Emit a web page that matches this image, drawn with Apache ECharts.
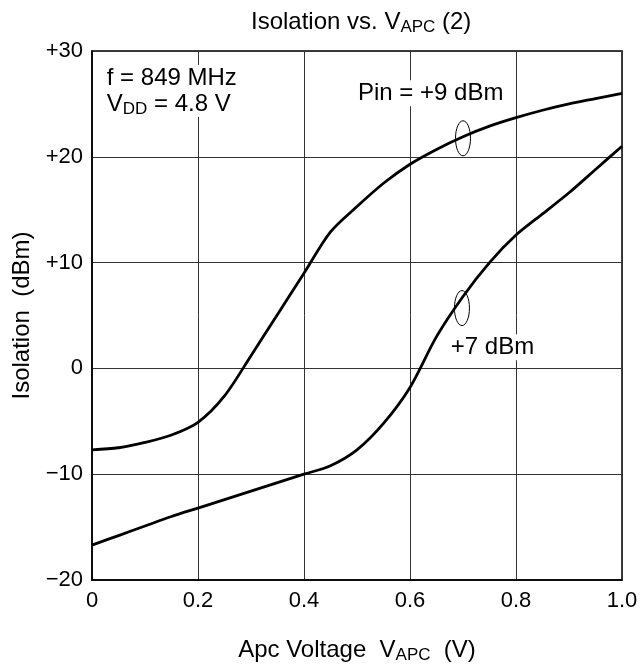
<!DOCTYPE html>
<html>
<head>
<meta charset="utf-8">
<script src="https://cdn.jsdelivr.net/npm/echarts@6/dist/echarts.min.js"></script>
<style>
html,body{margin:0;padding:0;background:#fff;}
#chart{width:641px;height:671px;}
</style>
</head>
<body>
<div id="chart"></div>
<script>
// ---- data ----
const vApc = [0, 0.05, 0.1, 0.15, 0.2, 0.25, 0.3, 0.35, 0.4, 0.45, 0.5, 0.55, 0.6, 0.65, 0.7, 0.75, 0.8, 0.85, 0.9, 0.95, 1.0];
const pin9 = [-7.7, -7.5, -7.0, -6.3, -5.1, -2.6, 1.2, 5.1, 9.0, 12.9, 15.3, 17.5, 19.3, 20.7, 21.9, 22.9, 23.7, 24.4, 25.0, 25.5, 26.0];
const pin7 = [-16.7, -15.8, -14.9, -14.0, -13.2, -12.4, -11.6, -10.8, -10.0, -9.2, -7.7, -5.2, -1.8, 3.0, 6.8, 10.0, 12.6, 14.6, 16.6, 18.8, 21.0];
const xTicks = [0, 0.2, 0.4, 0.6, 0.8, 1.0];
const xTickLabels = ['0', '0.2', '0.4', '0.6', '0.8', '1.0'];
const yTicks = [-20, -10, 0, 10, 20, 30];
const yTickLabels = ['\u221220', '\u221210', '0', '+10', '+20', '+30'];
const seriesNames = ['Pin = +9 dBm', '+7 dBm'];

const FONT = '"Liberation Sans", Arial, Helvetica, sans-serif';
const chart = echarts.init(document.getElementById('chart'), null, {renderer: 'canvas'});

function pair(xs, ys) { return xs.map((x, i) => [x, ys[i]]); }
function lbl(ticks, labels) {
  return v => { const i = ticks.findIndex(t => Math.abs(t - v) < 1e-6); return i >= 0 ? labels[i] : ''; };
}

const subRich = {
  a: {fontFamily: FONT, fontSize: 24, color: '#000', lineHeight: 28},
  s: {fontFamily: FONT, fontSize: 17, color: '#000', lineHeight: 28, padding: [11, 0, 0, 0]}
};

chart.setOption({
  animation: false,
  backgroundColor: '#fff',
  title: {
    text: '{a|Isolation vs. V}{s|APC}{a| (2)}',
    left: 246, top: 3,
    textStyle: {fontWeight: 'normal', rich: subRich}
  },
  grid: {left: 92, right: 19, top: 51, bottom: 91, show: true, borderColor: '#000', borderWidth: 1.5, backgroundColor: 'transparent'},
  xAxis: {
    type: 'value', min: 0, max: 1, interval: 0.2,
    axisLine: {show: true, onZero: false, lineStyle: {color: '#000', width: 1.5}},
    axisTick: {show: false},
    splitLine: {show: true, lineStyle: {color: '#333', width: 1}},
    axisLabel: {formatter: lbl(xTicks, xTickLabels), color: '#000', fontFamily: FONT, fontSize: 22, margin: 10},
    name: '{a|Apc Voltage  V}{s|APC}{a|  (V)}',
    nameLocation: 'middle', nameGap: 56,
    nameTextStyle: {rich: subRich}
  },
  yAxis: {
    type: 'value', min: -20, max: 30, interval: 10,
    axisLine: {show: true, onZero: false, lineStyle: {color: '#000', width: 1.5}},
    axisTick: {show: false},
    splitLine: {show: true, lineStyle: {color: '#333', width: 1}},
    axisLabel: {formatter: lbl(yTicks, yTickLabels), color: '#000', fontFamily: FONT, fontSize: 22, margin: 9},
    name: 'Isolation  (dBm)',
    nameLocation: 'middle', nameGap: 58,
    nameTextStyle: {fontFamily: FONT, fontSize: 24, color: '#000'}
  },
  series: [
    {name: seriesNames[0], type: 'line', data: pair(vApc, pin9), smooth: 0.3, showSymbol: false,
     lineStyle: {color: '#000', width: 2.8}, z: 3},
    {name: seriesNames[1], type: 'line', data: pair(vApc, pin7), smooth: 0.3, showSymbol: false,
     lineStyle: {color: '#000', width: 2.8}, z: 3}
  ]
});

// annotations in data coordinates
const texts = [
  {pos: [0.026, 27.45], rich: '{a|f = 849 MHz}'},
  {pos: [0.026, 25.0], rich: '{a|V}{s|DD}{a| = 4.8 V}'},
  {pos: [0.5, 26.0], rich: '{a|' + seriesNames[0] + '}'},
  {pos: [0.675, 2.0], rich: '{a|' + seriesNames[1] + '}'}
];
const loops = [[0.70, 21.75], [0.698, 5.7]];

const annRich = {
  a: {fontFamily: FONT, fontSize: 24, color: '#000', lineHeight: 26},
  s: {fontFamily: FONT, fontSize: 17, color: '#000', lineHeight: 26, padding: [10, 0, 0, 0]}
};

const graphics = [];
texts.forEach(t => {
  const p = chart.convertToPixel({gridIndex: 0}, t.pos);
  graphics.push({type: 'text', x: p[0], y: p[1], z: 10,
    style: {text: t.rich, rich: annRich, verticalAlign: 'middle', align: 'left',
            backgroundColor: '#fff', padding: [0, 1, 0, 1]}});
});
loops.forEach(c => {
  const p = chart.convertToPixel({gridIndex: 0}, c);
  graphics.push({type: 'ellipse', z: 11, shape: {cx: p[0], cy: p[1], rx: 7.5, ry: 17.5},
    style: {fill: 'none', stroke: '#000', lineWidth: 1}});
});
chart.setOption({graphic: graphics});
</script>
</body>
</html>
